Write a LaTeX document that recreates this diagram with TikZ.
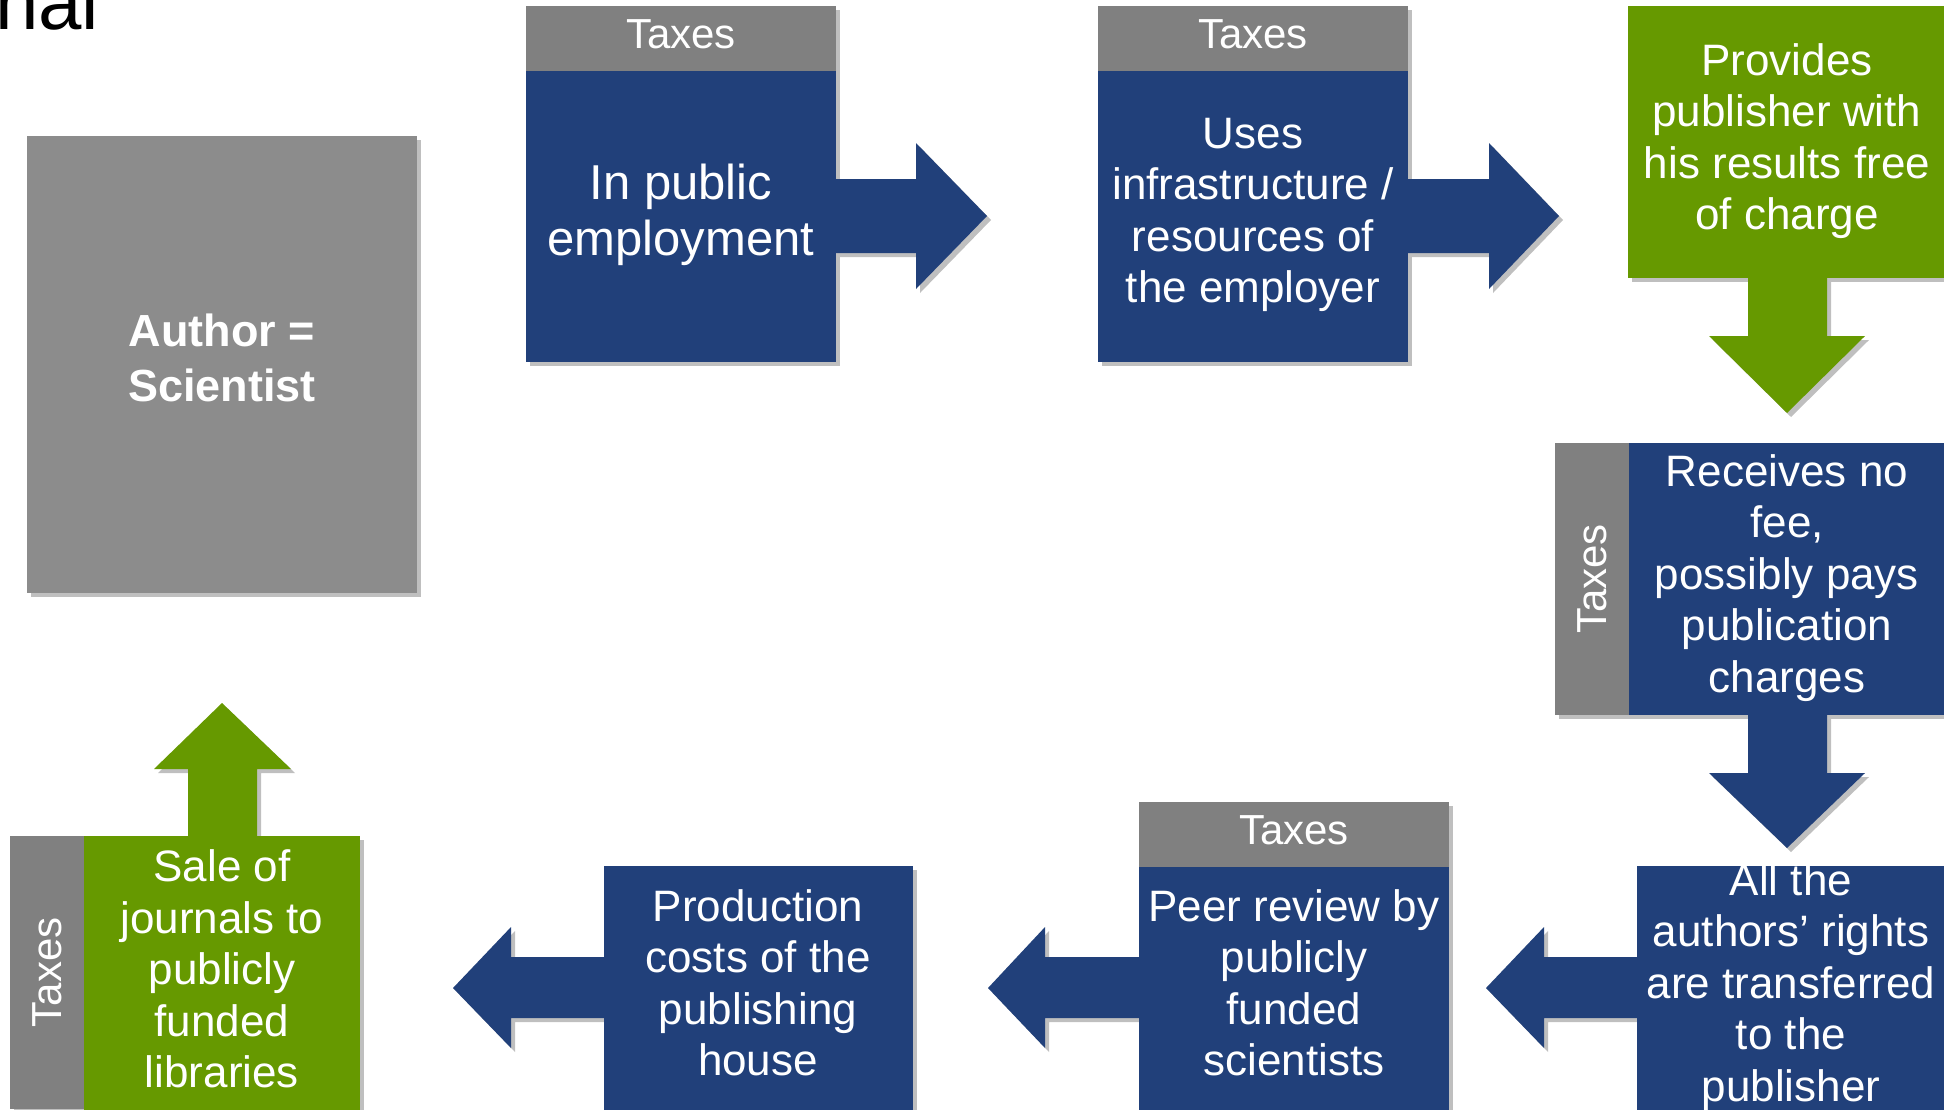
\documentclass[tikz,border=0pt]{standalone}
\usepackage{fontspec}
\setmainfont{Liberation Sans}
\usetikzlibrary{shadows}
\definecolor{cblue}{HTML}{21407A}
\definecolor{cgreen}{HTML}{669900}
\definecolor{cgray}{HTML}{808080}
\definecolor{cauthor}{HTML}{8C8C8C}
\tikzset{
  shad/.style={drop shadow={shadow xshift=4pt, shadow yshift=-4pt, opacity=0.25, fill=black}},
  box/.style={rectangle, inner sep=0pt, outer sep=0pt, anchor=north west, shad},
  bluebox/.style={box, fill=cblue},
  greenbox/.style={box, fill=cgreen},
  graybox/.style={box, fill=cgray},
  lbl/.style={text=white, align=center, inner sep=0pt, font=\fontsize{44}{51.5}\selectfont},
  taxlbl/.style={text=white, inner sep=0pt, font=\fontsize{42}{48}\selectfont},
  bluearrow/.style={fill=cblue, shad},
  greenarrow/.style={fill=cgreen, shad},
}
\begin{document}
\begin{tikzpicture}[x=1pt,y=-1pt]
\useasboundingbox (0,0) rectangle (1944,1109);
\clip (0,0) rectangle (1944,1109);

% title fragment
\node[anchor=base west, inner sep=0pt, font=\fontsize{78}{86}\selectfont] (title) at (-5,29) {nal};

% left / up arrows (drawn below their source boxes)
\fill[bluearrow] (1640,957) -- (1544,957) -- (1544,927) -- (1486,988) -- (1544,1048) -- (1544,1018) -- (1640,1018) -- cycle;
\fill[bluearrow] (1142,957) -- (1045,957) -- (1045,927) -- (988,988) -- (1045,1048) -- (1045,1018) -- (1142,1018) -- cycle;
\fill[bluearrow] (607,957) -- (511,957) -- (511,927) -- (453,988) -- (511,1048) -- (511,1018) -- (607,1018) -- cycle;
\fill[greenarrow] (188,840) -- (188,769) -- (154,769) -- (222,703) -- (291,769) -- (257,769) -- (257,840) -- cycle;

% author
\node[box, fill=cauthor, minimum width=390pt, minimum height=457pt] (author) at (27,136) {};
\node[text=white, align=center, inner sep=0pt, font=\fontsize{45}{55}\selectfont\bfseries] (authort) at (222,358) {Author =\\Scientist};

% box 1
\node[graybox, minimum width=310pt, minimum height=65pt] (h1) at (526,6) {};
\node[taxlbl] (th1) at ([yshift=4pt]h1.center) {Taxes};
\node[bluebox, minimum width=310pt, minimum height=291pt] (b1) at (526,71) {};
\node[lbl, font=\fontsize{49}{56}\selectfont] (t1) at (681,215) {In public\\employment};

% box 2
\node[graybox, minimum width=310pt, minimum height=65pt] (h2) at (1098,6) {};
\node[taxlbl] (th2) at ([yshift=4pt]h2.center) {Taxes};
\node[bluebox, minimum width=310pt, minimum height=291pt] (b2) at (1098,71) {};
\node[lbl] (t2) at (1253,215) {Uses\\infrastructure /\\resources of\\the employer};

% green box
\node[greenbox, minimum width=320pt, minimum height=272pt] (g1) at (1628,6) {};
\node[lbl] (t3) at (1787,141) {Provides\\publisher with\\his results free\\of charge};

% receives
\node[graybox, minimum width=74pt, minimum height=272pt] (v1) at (1555,443) {};
\node[taxlbl, rotate=90] (tv1) at (v1.center) {Taxes};
\node[bluebox, minimum width=320pt, minimum height=272pt] (b3) at (1629,443) {};
\node[lbl] (t4) at (1787,578) {Receives no\\fee,\\possibly pays\\publication\\charges};

% all the authors' rights
\node[bluebox, minimum width=320pt, minimum height=260pt] (b4) at (1637,866) {};
\node[lbl] (t5) at (1791,987) {All the\\authors' rights\\are transferred\\to the\\publisher};

% peer review
\node[graybox, minimum width=310pt, minimum height=65pt] (h5) at (1139,802) {};
\node[taxlbl] (th5) at ([yshift=4pt]h5.center) {Taxes};
\node[bluebox, minimum width=310pt, minimum height=260pt] (b5) at (1139,867) {};
\node[lbl] (t6) at (1294,983) {Peer review by\\publicly\\funded\\scientists};

% production
\node[bluebox, minimum width=309pt, minimum height=260pt] (b6) at (604,866) {};
\node[lbl] (t7) at (758,983) {Production\\costs of the\\publishing\\house};

% sale
\node[graybox, minimum width=74pt, minimum height=273pt] (v2) at (10,836) {};
\node[taxlbl, rotate=90] (tv2) at (v2.center) {Taxes};
\node[greenbox, minimum width=276pt, minimum height=290pt] (g2) at (84,836) {};
\node[lbl] (t8) at (222,969) {Sale of\\journals to\\publicly\\funded\\libraries};

% right / down arrows
\fill[bluearrow] (836,179) -- (916,179) -- (916,143) -- (987,216) -- (916,289) -- (916,253) -- (836,253) -- cycle;
\fill[bluearrow] (1408,179) -- (1489,179) -- (1489,143) -- (1559,216) -- (1489,289) -- (1489,253) -- (1408,253) -- cycle;
\fill[greenarrow] (1748,278) -- (1748,336) -- (1709,336) -- (1787,413) -- (1865,336) -- (1827,336) -- (1827,278) -- cycle;
\fill[bluearrow] (1748,715) -- (1748,773) -- (1709,773) -- (1787,848) -- (1865,773) -- (1827,773) -- (1827,715) -- cycle;
\end{tikzpicture}
\end{document}
